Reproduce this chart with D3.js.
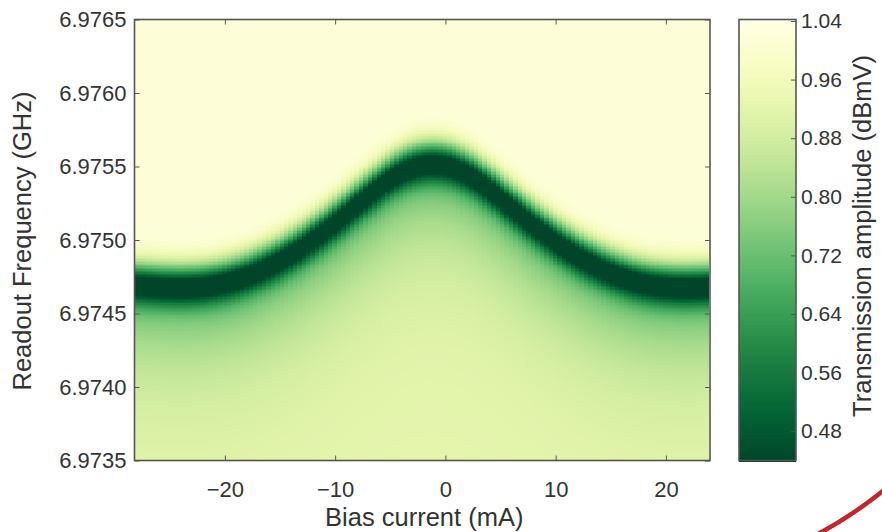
<!DOCTYPE html>
<html>
<head>
<meta charset="utf-8">
<script src="https://cdn.jsdelivr.net/npm/d3@7/dist/d3.min.js"></script>
<style>
  html, body { margin: 0; padding: 0; background: #fff; }
  text { font-family: "Liberation Sans", Arial, Helvetica, sans-serif; fill: #333; }
</style>
</head>
<body>
<svg id="chart" width="882" height="532"></svg>
<script>
// ---- data ----
const biasCurrent = [-28,-26,-24,-22,-20,-18,-16,-14,-12,-10,-8,-6,-4,-2,0,2,4,6,8,10,12,14,16,18,20,22,24]; // mA
const resonanceFreq = [6.974742,6.974732,6.974728,6.974735,6.974760,6.974805,6.974871,6.974953,6.975053,6.975165,
  6.975289,6.975410,6.975510,6.975561,6.975558,6.975501,6.975399,6.975276,6.975154,6.975042,
  6.974944,6.974864,6.974800,6.974756,6.974734,6.974728,6.974732]; // GHz, centre of the dark dip
const dipParams = { depth: 0.42, sigma: 0.000100, levelAbove: 1.02, levelBelowFar: 0.925, tailAmp: 0.34, tailDecay: 0.00040, step: 0.00003 };
const xTicks = [-20, -10, 0, 10, 20];
const yTicks = [6.9735, 6.9740, 6.9745, 6.9750, 6.9755, 6.9760, 6.9765];
const cbTicks = [0.48, 0.56, 0.64, 0.72, 0.80, 0.88, 0.96, 1.04];
const xDomain = [-28.2, 24];
const yDomain = [6.9735, 6.9765];
const cDomain = [0.44, 1.042];

// ---- layout ----
const plot = { left: 134.5, right: 710, top: 19.5, bottom: 460.5 };
const cbar = { left: 739, right: 796 };
const tickFont = 22, cbTickFont = 21, titleFont = 25.5;

const svg = d3.select("#chart");
const x = d3.scaleLinear().domain(xDomain).range([plot.left, plot.right]);
const y = d3.scaleLinear().domain(yDomain).range([plot.bottom, plot.top]);
const c = d3.scaleLinear().domain(cDomain).range([plot.bottom, plot.top]);
const colorOf = v => d3.interpolateYlGn(1 - Math.max(0, Math.min(1, (v - cDomain[0]) / (cDomain[1] - cDomain[0]))));

// Catmull-Rom through the read resonance points
function f0At(I) {
  const n = biasCurrent.length;
  let i = d3.bisectRight(biasCurrent, I) - 1;
  i = Math.max(0, Math.min(n - 2, i));
  const p0 = resonanceFreq[Math.max(0, i - 1)], p1 = resonanceFreq[i], p2 = resonanceFreq[i + 1], p3 = resonanceFreq[Math.min(n - 1, i + 2)];
  const t = (I - biasCurrent[i]) / (biasCurrent[i + 1] - biasCurrent[i]);
  const t2 = t * t, t3 = t2 * t;
  return 0.5 * ((2 * p1) + (-p0 + p2) * t + (2 * p0 - 5 * p1 + 4 * p2 - p3) * t2 + (-p0 + 3 * p1 - 3 * p2 + p3) * t3);
}
function amplitude(I, f) {
  const p = dipParams;
  const d = f - f0At(I);
  const w = 1 / (1 + Math.exp(-d / p.step));
  const below = p.levelBelowFar - p.tailAmp * Math.exp(-Math.max(0, -d) / p.tailDecay);
  const base = w * p.levelAbove + (1 - w) * below;
  return base - p.depth * Math.exp(-(d * d) / (2 * p.sigma * p.sigma));
}

// ---- heatmap cells ----
const dI = 0.4, dF = 0.00001;
const colsI = d3.range(xDomain[0] + dI / 2, xDomain[1], dI);
const rowsF = d3.range(yDomain[0] + dF / 2, yDomain[1], dF);
const cells = [];
colsI.forEach(I => rowsF.forEach(f => cells.push({ I, f, v: amplitude(I, f) })));

svg.append("clipPath").attr("id", "plotclip").append("rect")
  .attr("x", plot.left).attr("y", plot.top).attr("width", plot.right - plot.left).attr("height", plot.bottom - plot.top);

svg.append("g").attr("clip-path", "url(#plotclip)").attr("shape-rendering", "crispEdges")
  .selectAll("rect").data(cells).join("rect")
  .attr("x", d => Math.floor(x(d.I - dI / 2)))
  .attr("y", d => Math.floor(y(d.f + dF / 2)))
  .attr("width", d => Math.ceil(x(d.I + dI / 2)) - Math.floor(x(d.I - dI / 2)) + 1)
  .attr("height", d => Math.ceil(y(d.f - dF / 2)) - Math.floor(y(d.f + dF / 2)) + 1)
  .attr("fill", d => colorOf(d.v));

// ---- axes (inward ticks, box) ----
const axisColor = "#555";
const tickLen = 5;
const styleText = (sel, size) => sel.attr("font-size", size).attr("fill", "#333")
  .style("font-family", '"Liberation Sans", Arial, sans-serif');
const gx = svg.append("g").attr("transform", `translate(0,${plot.bottom})`)
  .call(d3.axisBottom(x).tickValues(xTicks).tickSizeInner(-tickLen).tickSizeOuter(0).tickPadding(21).tickFormat(d3.format("d")));
const gxTop = svg.append("g").attr("transform", `translate(0,${plot.top})`)
  .call(d3.axisTop(x).tickValues(xTicks).tickSizeInner(-tickLen).tickSizeOuter(0).tickFormat(""));
const gy = svg.append("g").attr("transform", `translate(${plot.left},0)`)
  .call(d3.axisLeft(y).tickValues(yTicks).tickSizeInner(-tickLen).tickSizeOuter(0).tickPadding(8).tickFormat(d3.format(".4f")));
const gyR = svg.append("g").attr("transform", `translate(${plot.right},0)`)
  .call(d3.axisRight(y).tickValues(yTicks).tickSizeInner(-tickLen).tickSizeOuter(0).tickFormat(""));
[gx, gxTop, gy, gyR].forEach(g => {
  g.select(".domain").remove();
  g.selectAll(".tick line").attr("stroke", axisColor).attr("stroke-width", 1);
  styleText(g.selectAll(".tick text"), tickFont);
});
gx.selectAll(".tick text").text(d => d < 0 ? "\u2212" + Math.abs(d) : d);
svg.append("rect").attr("x", plot.left).attr("y", plot.top)
  .attr("width", plot.right - plot.left).attr("height", plot.bottom - plot.top)
  .attr("fill", "none").attr("stroke", axisColor).attr("stroke-width", 1.6);

svg.append("text").attr("x", (plot.left + plot.right) / 2 + 2).attr("y", 526)
  .attr("text-anchor", "middle").attr("font-size", titleFont).text("Bias current (mA)");
svg.append("text").attr("transform", `translate(31,${(plot.top + plot.bottom) / 2 + 1}) rotate(-90)`)
  .attr("text-anchor", "middle").attr("font-size", titleFont).text("Readout Frequency (GHz)");

// ---- colorbar ----
const cbSteps = d3.range(cDomain[0], cDomain[1], 0.002);
svg.append("g").attr("shape-rendering", "crispEdges").selectAll("rect").data(cbSteps).join("rect")
  .attr("x", cbar.left).attr("width", cbar.right - cbar.left)
  .attr("y", d => Math.floor(c(Math.min(cDomain[1], d + 0.002))))
  .attr("height", d => Math.ceil(c(d)) - Math.floor(c(Math.min(cDomain[1], d + 0.002))) + 1)
  .attr("fill", d => colorOf(d + 0.001));
const gc = svg.append("g").attr("transform", `translate(${cbar.right},0)`)
  .call(d3.axisRight(c).tickValues(cbTicks).tickSizeInner(-tickLen).tickSizeOuter(0).tickPadding(5).tickFormat(d3.format(".2f")));
gc.select(".domain").remove();
gc.selectAll(".tick line").attr("stroke", axisColor);
styleText(gc.selectAll(".tick text"), cbTickFont);
svg.append("rect").attr("x", cbar.left).attr("y", plot.top)
  .attr("width", cbar.right - cbar.left).attr("height", plot.bottom - plot.top)
  .attr("fill", "none").attr("stroke", axisColor).attr("stroke-width", 1.6);
svg.append("text").attr("transform", `translate(871,${(plot.top + plot.bottom) / 2 - 4}) rotate(-90)`)
  .attr("text-anchor", "middle").attr("font-size", titleFont).text("Transmission amplitude (dBmV)");

// decorative red swoosh at the bottom-right corner of the reference picture
svg.append("path").attr("d", "M818,534 Q852,516 884,490").attr("fill", "none")
  .attr("stroke", "#c4262c").attr("stroke-width", 4.5).attr("stroke-linecap", "round");
</script>
</body>
</html>
